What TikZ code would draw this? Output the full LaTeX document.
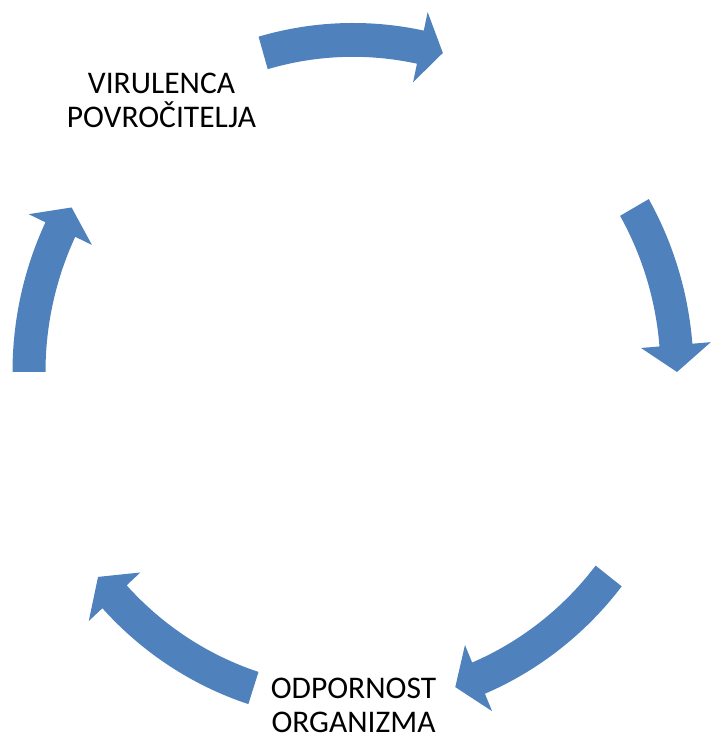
\documentclass[tikz,border=0pt]{standalone}
\usepackage{fontspec}
\setmainfont{Carlito}
\definecolor{cycblue}{RGB}{79,129,189}
\newcommand\cycarr[3]{% tail, base, tip angles
  \path[cycarrow] (#1:340.5pt) arc[start angle=#1, end angle=#2, radius=340.5pt]
    -- (#2:359pt) -- (#3:324pt) -- (#2:289pt) -- (#2:307.5pt)
    arc[start angle=#2, end angle=#1, radius=307.5pt] -- cycle;}
\begin{document}
\begin{tikzpicture}[x=1pt,y=1pt,
  cycarrow/.style={fill=cycblue, draw=none},
  lbl/.style={align=center, inner sep=0pt, font=\fontsize{31.5}{34.5}\selectfont, text=black}]
\useasboundingbox (0,0) rectangle (710,734);
\begin{scope}[shift={(353,362)}, yscale=1.025]
  \cycarr{106.1}{78.0}{73.9}
  \cycarr{29.7}{4.65}{0}
  \cycarr{-37.9}{-67.2}{-71.6}
  \cycarr{-107.9}{-137.4}{-141.9}
  \cycarr{180}{154.6}{150.3}
\end{scope}
\node[lbl, anchor=base] (vir) at (161.5,606) {VIRULENCA\\POVROČITELJA};
\node[lbl, anchor=base] (odp) at (353.5,1.5) {ODPORNOST\\ORGANIZMA};
\end{tikzpicture}
\end{document}
